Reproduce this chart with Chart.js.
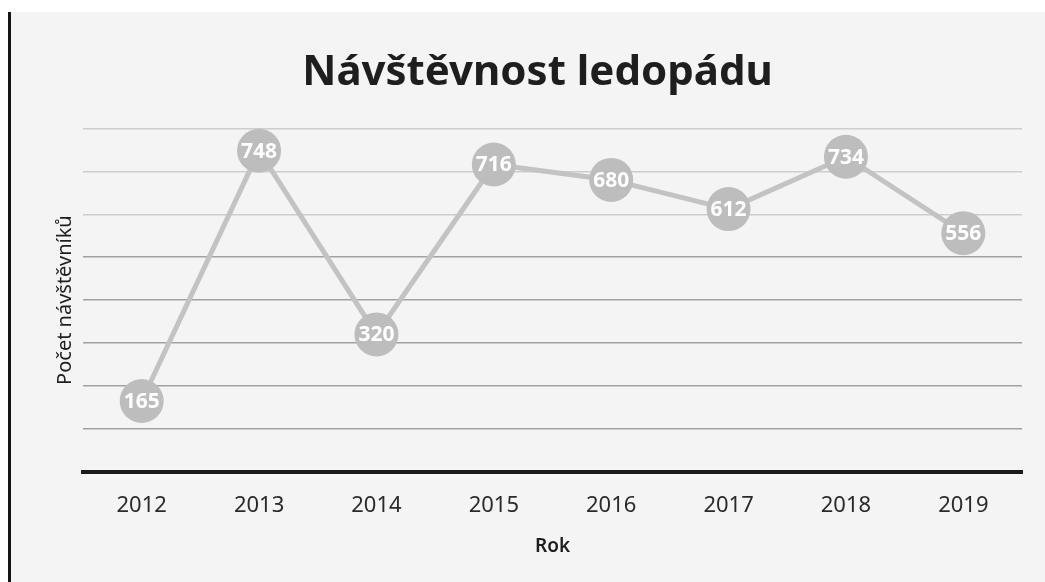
<!DOCTYPE html>
<html>
<head>
<meta charset="utf-8">
<script src="https://cdn.jsdelivr.net/npm/chart.js@4.4.0/dist/chart.umd.min.js"></script>
<style>
    body { margin: 0; background: #ffffff; }
    #frame {
        position: absolute; left: 8px; top: 12px;
        width: 1034px; height: 570px;
        border-left: 3px solid #151515;
        background: #f4f4f5;
    }
</style>
</head>
<body>
<div id="frame"><canvas id="myChart" width="1034" height="570"></canvas></div>
<script>
// years and visitor counts
const years = ['2012', '2013', '2014', '2015', '2016', '2017', '2018', '2019'];
const visitors = [165, 748, 320, 716, 680, 612, 734, 556];
const yMax = 800;
const yStep = 100;

const fontName = "'Noto Sans', 'DejaVu Sans', sans-serif";

// writes the value inside every point circle
const pointLabels = {
    id: 'pointLabels',
    afterDatasetsDraw(chart) {
        const ctx = chart.ctx;
        const meta = chart.getDatasetMeta(0);
        ctx.save();
        ctx.fillStyle = '#ffffff';
        ctx.font = "bold 21px " + fontName;
        ctx.textAlign = 'center';
        ctx.textBaseline = 'middle';
        meta.data.forEach((pt, i) => {
            ctx.fillText(visitors[i], pt.x, pt.y + 1);
        });
        ctx.restore();
    }
};

const ctx = document.getElementById('myChart');

new Chart(ctx, {
    type: 'line',
    data: {
        labels: years,
        datasets: [{
            label: 'Počet návštěvníků',
            data: visitors,
            borderColor: '#c3c3c3',
            borderWidth: 5,
            pointRadius: 22,
            pointHoverRadius: 22,
            pointBackgroundColor: '#bdbdbd',
            pointBorderColor: '#bdbdbd',
            pointBorderWidth: 0,
            tension: 0
        }]
    },
    options: {
        responsive: false,
        animation: false,
        clip: false,
        layout: {
            padding: { left: 42, right: 23, top: 10, bottom: 24 }
        },
        plugins: {
            legend: { display: false },
            tooltip: { enabled: false },
            title: {
                display: true,
                text: 'Návštěvnost ledopádu',
                color: '#1e1e1e',
                font: { family: fontName, size: 42, weight: 'bold' },
                padding: { top: 26, bottom: 30 }
            }
        },
        scales: {
            x: {
                offset: true,
                grid: { display: false, drawTicks: false },
                border: { display: true, color: '#1a1a1a', width: 4 },
                ticks: {
                    color: '#2a2a2a',
                    font: { family: fontName, size: 22 },
                    padding: 21
                },
                title: {
                    display: true,
                    text: 'Rok',
                    color: '#1e1e1e',
                    font: { family: fontName, size: 19, weight: '600' },
                    padding: { top: -5, bottom: 0 }
                }
            },
            y: {
                min: 0,
                max: yMax,
                ticks: { display: false, stepSize: yStep },
                border: { display: false },
                grid: {
                    drawTicks: false,
                    lineWidth: 1.5,
                    color: (c) => {
                        if (c.tick.value === 0) return 'rgba(0,0,0,0)';
                        return c.tick.value >= 600 ? '#cdcdcd' : '#a2a2a2';
                    }
                },
                title: {
                    display: true,
                    text: 'Počet návštěvníků',
                    color: '#1e1e1e',
                    font: { family: fontName, size: 20 },
                    padding: { top: 0, bottom: 6 }
                }
            }
        }
    },
    plugins: [pointLabels]
});
</script>
</body>
</html>
